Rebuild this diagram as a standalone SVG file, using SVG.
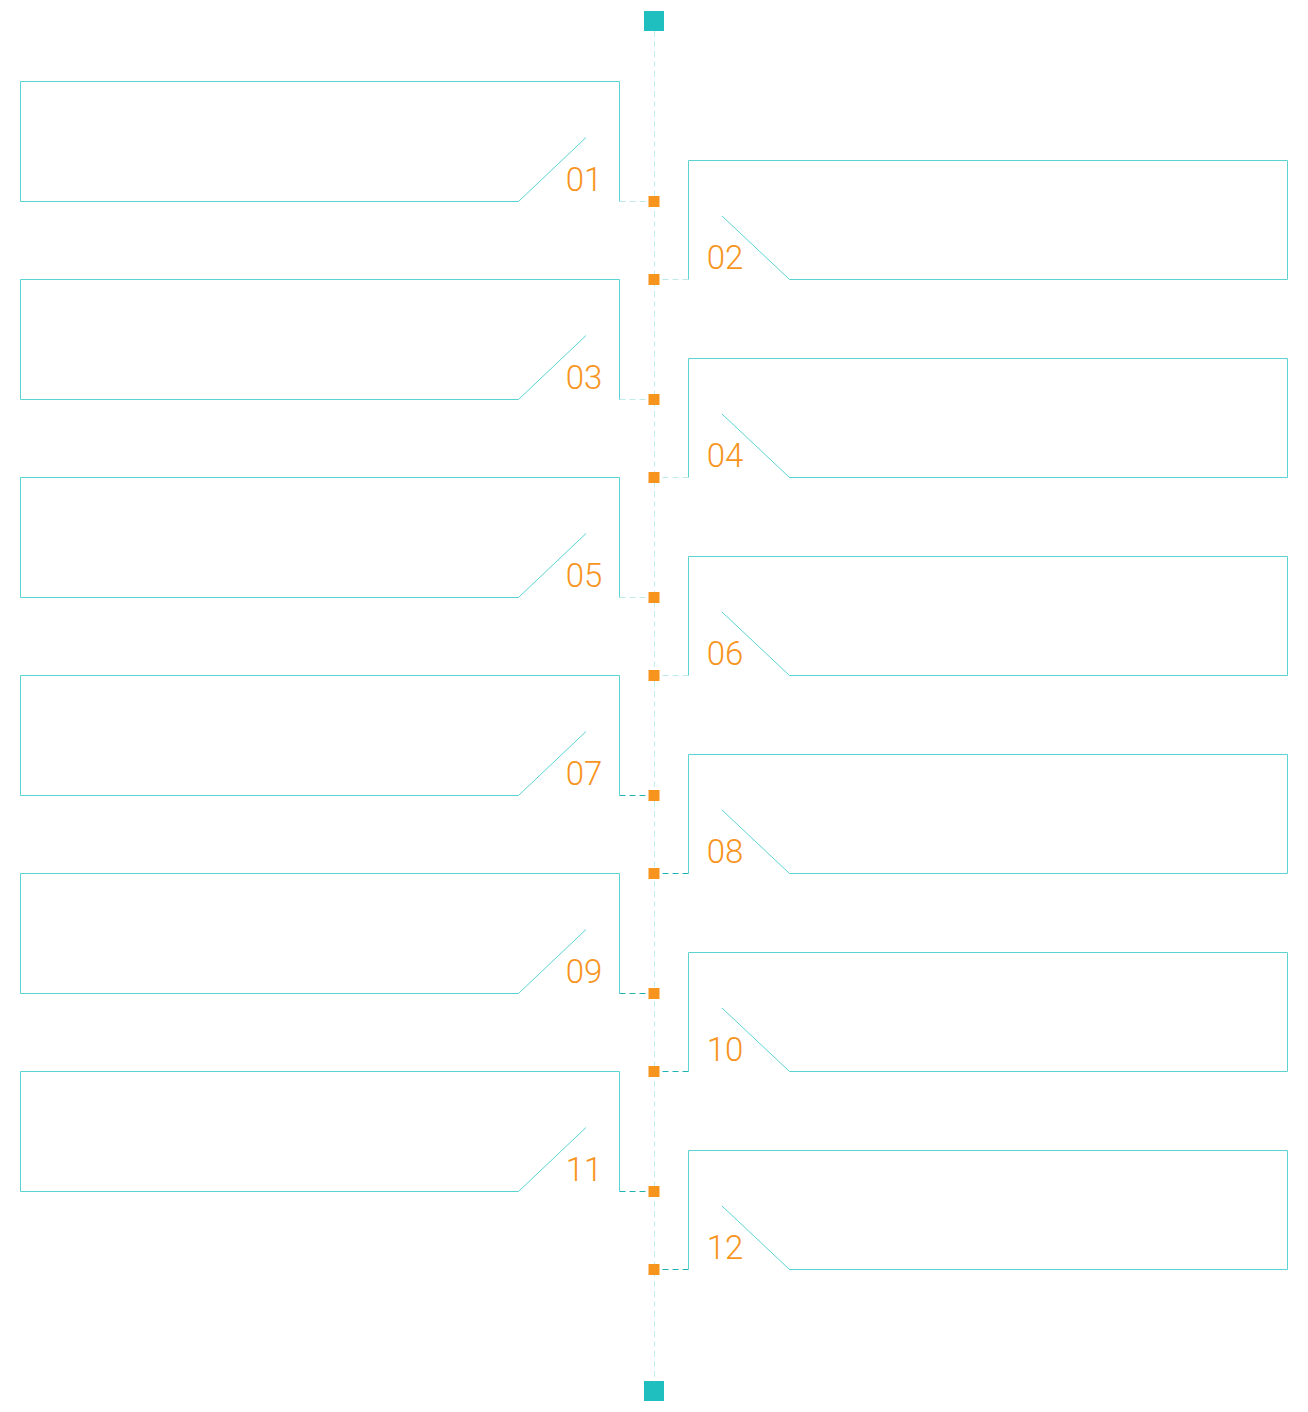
<svg xmlns="http://www.w3.org/2000/svg" width="1308" height="1412" viewBox="0 0 1308 1412">
<style>
.box{fill:none;stroke:#5cd3d3;stroke-width:1}
.spine{fill:none;stroke:#c2eeee;stroke-width:1;stroke-dasharray:6 4}
.cl{fill:none;stroke:#bfeaea;stroke-width:1;stroke-dasharray:6 4}
.cd{fill:none;stroke:#1fb3b3;stroke-width:1;stroke-dasharray:6 4}
.dot{fill:#f7941d}
.end{fill:#1fbfbf}
.num{font-family:Roboto,"Liberation Sans",sans-serif;font-weight:300;font-size:33px;fill:#f7941d;text-anchor:middle}
</style>
<rect width="1308" height="1412" fill="#ffffff"/>
<g id="connectors">
<line class="spine" x1="654.5" y1="31" x2="654.5" y2="1381"/>
<path class="cl" d="M619.5 201.5H648"/>
<path class="cl" d="M688.5 279.5H660"/>
<path class="cl" d="M619.5 399.5H648"/>
<path class="cl" d="M688.5 477.5H660"/>
<path class="cl" d="M619.5 597.5H648"/>
<path class="cl" d="M688.5 675.5H660"/>
<path class="cd" d="M619.5 795.5H648"/>
<path class="cd" d="M688.5 873.5H660"/>
<path class="cd" d="M619.5 993.5H648"/>
<path class="cd" d="M688.5 1071.5H660"/>
<path class="cd" d="M619.5 1191.5H648"/>
<path class="cd" d="M688.5 1269.5H660"/>
</g>
<g id="start"><rect class="end" x="644" y="11" width="20" height="20"/></g>
<g id="finish"><rect class="end" x="644" y="1381" width="20" height="20"/></g>
<g id="node01"><path class="box" d="M518.5 201.5H20.5V81.5H619.5V201.5M518.5 201.5L586 137.5"/><text class="num" x="584" y="191">01</text><rect class="dot" x="648.5" y="196" width="11" height="11"/></g>
<g id="node02"><path class="box" d="M789.5 279.5H1287.5V160.5H688.5V279.5M789.5 279.5L722 216"/><text class="num" x="725" y="269">02</text><rect class="dot" x="648.5" y="274" width="11" height="11"/></g>
<g id="node03"><path class="box" d="M518.5 399.5H20.5V279.5H619.5V399.5M518.5 399.5L586 335.5"/><text class="num" x="584" y="389">03</text><rect class="dot" x="648.5" y="394" width="11" height="11"/></g>
<g id="node04"><path class="box" d="M789.5 477.5H1287.5V358.5H688.5V477.5M789.5 477.5L722 414"/><text class="num" x="725" y="467">04</text><rect class="dot" x="648.5" y="472" width="11" height="11"/></g>
<g id="node05"><path class="box" d="M518.5 597.5H20.5V477.5H619.5V597.5M518.5 597.5L586 533.5"/><text class="num" x="584" y="587">05</text><rect class="dot" x="648.5" y="592" width="11" height="11"/></g>
<g id="node06"><path class="box" d="M789.5 675.5H1287.5V556.5H688.5V675.5M789.5 675.5L722 612"/><text class="num" x="725" y="665">06</text><rect class="dot" x="648.5" y="670" width="11" height="11"/></g>
<g id="node07"><path class="box" d="M518.5 795.5H20.5V675.5H619.5V795.5M518.5 795.5L586 731.5"/><text class="num" x="584" y="785">07</text><rect class="dot" x="648.5" y="790" width="11" height="11"/></g>
<g id="node08"><path class="box" d="M789.5 873.5H1287.5V754.5H688.5V873.5M789.5 873.5L722 810"/><text class="num" x="725" y="863">08</text><rect class="dot" x="648.5" y="868" width="11" height="11"/></g>
<g id="node09"><path class="box" d="M518.5 993.5H20.5V873.5H619.5V993.5M518.5 993.5L586 929.5"/><text class="num" x="584" y="983">09</text><rect class="dot" x="648.5" y="988" width="11" height="11"/></g>
<g id="node10"><path class="box" d="M789.5 1071.5H1287.5V952.5H688.5V1071.5M789.5 1071.5L722 1008"/><text class="num" x="725" y="1061">10</text><rect class="dot" x="648.5" y="1066" width="11" height="11"/></g>
<g id="node11"><path class="box" d="M518.5 1191.5H20.5V1071.5H619.5V1191.5M518.5 1191.5L586 1127.5"/><text class="num" x="584" y="1181">11</text><rect class="dot" x="648.5" y="1186" width="11" height="11"/></g>
<g id="node12"><path class="box" d="M789.5 1269.5H1287.5V1150.5H688.5V1269.5M789.5 1269.5L722 1206"/><text class="num" x="725" y="1259">12</text><rect class="dot" x="648.5" y="1264" width="11" height="11"/></g>
</svg>
